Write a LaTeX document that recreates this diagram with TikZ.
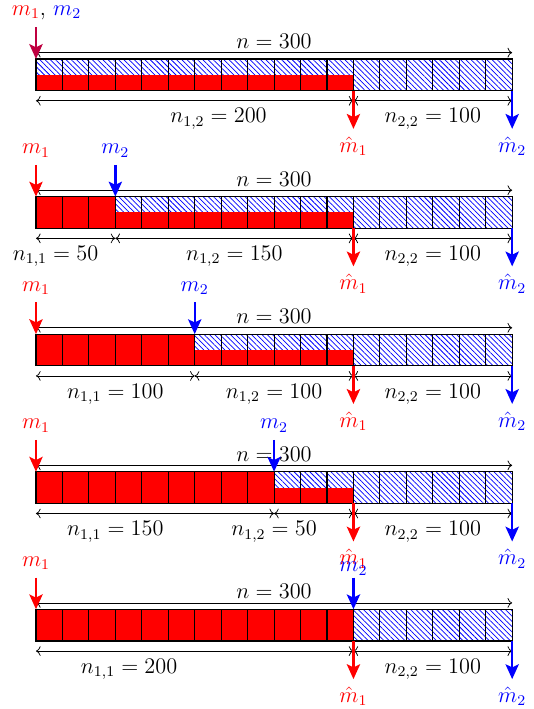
\documentclass[12pt,tikz,border=0pt]{standalone}
\usetikzlibrary{arrows.meta,patterns.meta}
\tikzset{
  cell/.style={draw=black, semithick},
  hatch/.style={pattern={Lines[angle=-45,distance=2pt,line width=0.4pt]}, pattern color=blue},
  redpart/.style={fill=red},
  dim/.style={<->, thin},
  ptr/.style={-{Stealth[length=2.8mm,width=2.5mm,inset=0.6mm]}, line width=1.3pt},
  lbl/.style={inner sep=2pt},
}

\begin{document}
\begin{tikzpicture}
  \useasboundingbox (-0.68,1.115) rectangle (9.395,-12.285);

  % row a: m1 = m2 at the start
  \begin{scope}
    \fill[hatch] (0,-0.6) rectangle (9,0);
    \fill[redpart] (0,-0.6) rectangle (6,-0.3);
    \foreach \i in {0,...,17} \draw[cell] (\i*0.5,-0.6) rectangle +(0.5,0.6);
    \coordinate (nLa) at (0,0.12);
    \coordinate (nRa) at (9,0.12);
    \draw[dim] (nLa) -- node[above, lbl] (na) {$n = 300$} (nRa);
    \coordinate (dAa) at (0,-0.79);
    \coordinate (dCa) at (6,-0.79);
    \coordinate (dDa) at (9,-0.79);
    \draw[dim] (dAa) -- (dCa);
    \draw[dim] (dCa) -- (dDa);
    \node[below] (n12a) at (3.45,-0.79) {$n_{1,2} = 200$};
    \node[below] (n22a) at (7.5,-0.79) {$n_{2,2} = 100$};
    \coordinate (s1a) at (0,0.6);
    \coordinate (t1a) at (0,0);
    \draw[ptr, red!75!blue] (s1a) -- (t1a);
    \node[above] (m12a) at (0.2,0.6) {{\color{red}$m_1$}, {\color{blue}$m_2$}};
    \coordinate (h1a) at (6,-0.6);
    \coordinate (e1a) at (6,-1.32);
    \coordinate (h2a) at (9,-0.6);
    \coordinate (e2a) at (9,-1.32);
    \draw[ptr, red] (h1a) -- (e1a);
    \draw[ptr, blue] (h2a) -- (e2a);
    \node[below, red] (hm1a) at (e1a) {$\hat{m}_1$};
    \node[below, blue] (hm2a) at (e2a) {$\hat{m}_2$};
  \end{scope}

  % row b: m2 after 50
  \begin{scope}[yshift=-2.6cm]
    \fill[hatch] (1.5,-0.6) rectangle (9,0);
    \fill[redpart] (0,-0.6) rectangle (1.5,0);
    \fill[redpart] (1.5,-0.6) rectangle (6,-0.3);
    \foreach \i in {0,...,17} \draw[cell] (\i*0.5,-0.6) rectangle +(0.5,0.6);
    \coordinate (nLb) at (0,0.12);
    \coordinate (nRb) at (9,0.12);
    \draw[dim] (nLb) -- node[above, lbl] (nb) {$n = 300$} (nRb);
    \coordinate (dAb) at (0,-0.79);
    \coordinate (dBb) at (1.5,-0.79);
    \coordinate (dCb) at (6,-0.79);
    \coordinate (dDb) at (9,-0.79);
    \draw[dim] (dAb) -- (dBb);
    \draw[dim] (dBb) -- (dCb);
    \draw[dim] (dCb) -- (dDb);
    \node[below] (n11b) at (0.37,-0.79) {$n_{1,1} = 50$};
    \node[below] (n12b) at (3.75,-0.79) {$n_{1,2} = 150$};
    \node[below] (n22b) at (7.5,-0.79) {$n_{2,2} = 100$};
    \coordinate (s1b) at (0,0.6);
    \coordinate (t1b) at (0,0);
    \coordinate (s2b) at (1.5,0.6);
    \coordinate (t2b) at (1.5,0);
    \draw[ptr, red] (s1b) -- (t1b);
    \draw[ptr, blue] (s2b) -- (t2b);
    \node[above, red] (m1b) at (s1b) {$m_1$};
    \node[above, blue] (m2b) at (s2b) {$m_2$};
    \coordinate (h1b) at (6,-0.6);
    \coordinate (e1b) at (6,-1.32);
    \coordinate (h2b) at (9,-0.6);
    \coordinate (e2b) at (9,-1.32);
    \draw[ptr, red] (h1b) -- (e1b);
    \draw[ptr, blue] (h2b) -- (e2b);
    \node[below, red] (hm1b) at (e1b) {$\hat{m}_1$};
    \node[below, blue] (hm2b) at (e2b) {$\hat{m}_2$};
  \end{scope}

  % row c: m2 after 100
  \begin{scope}[yshift=-5.2cm]
    \fill[hatch] (3,-0.6) rectangle (9,0);
    \fill[redpart] (0,-0.6) rectangle (3,0);
    \fill[redpart] (3,-0.6) rectangle (6,-0.3);
    \foreach \i in {0,...,17} \draw[cell] (\i*0.5,-0.6) rectangle +(0.5,0.6);
    \coordinate (nLc) at (0,0.12);
    \coordinate (nRc) at (9,0.12);
    \draw[dim] (nLc) -- node[above, lbl] (nc) {$n = 300$} (nRc);
    \coordinate (dAc) at (0,-0.79);
    \coordinate (dBc) at (3,-0.79);
    \coordinate (dCc) at (6,-0.79);
    \coordinate (dDc) at (9,-0.79);
    \draw[dim] (dAc) -- (dBc);
    \draw[dim] (dBc) -- (dCc);
    \draw[dim] (dCc) -- (dDc);
    \node[below] (n11c) at (1.5,-0.79) {$n_{1,1} = 100$};
    \node[below] (n12c) at (4.5,-0.79) {$n_{1,2} = 100$};
    \node[below] (n22c) at (7.5,-0.79) {$n_{2,2} = 100$};
    \coordinate (s1c) at (0,0.6);
    \coordinate (t1c) at (0,0);
    \coordinate (s2c) at (3,0.6);
    \coordinate (t2c) at (3,0);
    \draw[ptr, red] (s1c) -- (t1c);
    \draw[ptr, blue] (s2c) -- (t2c);
    \node[above, red] (m1c) at (s1c) {$m_1$};
    \node[above, blue] (m2c) at (s2c) {$m_2$};
    \coordinate (h1c) at (6,-0.6);
    \coordinate (e1c) at (6,-1.32);
    \coordinate (h2c) at (9,-0.6);
    \coordinate (e2c) at (9,-1.32);
    \draw[ptr, red] (h1c) -- (e1c);
    \draw[ptr, blue] (h2c) -- (e2c);
    \node[below, red] (hm1c) at (e1c) {$\hat{m}_1$};
    \node[below, blue] (hm2c) at (e2c) {$\hat{m}_2$};
  \end{scope}

  % row d: m2 after 150
  \begin{scope}[yshift=-7.8cm]
    \fill[hatch] (4.5,-0.6) rectangle (9,0);
    \fill[redpart] (0,-0.6) rectangle (4.5,0);
    \fill[redpart] (4.5,-0.6) rectangle (6,-0.3);
    \foreach \i in {0,...,17} \draw[cell] (\i*0.5,-0.6) rectangle +(0.5,0.6);
    \coordinate (nLd) at (0,0.12);
    \coordinate (nRd) at (9,0.12);
    \draw[dim] (nLd) -- node[above, lbl] (nd) {$n = 300$} (nRd);
    \coordinate (dAd) at (0,-0.79);
    \coordinate (dBd) at (4.5,-0.79);
    \coordinate (dCd) at (6,-0.79);
    \coordinate (dDd) at (9,-0.79);
    \draw[dim] (dAd) -- (dBd);
    \draw[dim] (dBd) -- (dCd);
    \draw[dim] (dCd) -- (dDd);
    \node[below] (n11d) at (1.5,-0.79) {$n_{1,1} = 150$};
    \node[below] (n12d) at (4.5,-0.79) {$n_{1,2} = 50$};
    \node[below] (n22d) at (7.5,-0.79) {$n_{2,2} = 100$};
    \coordinate (s1d) at (0,0.6);
    \coordinate (t1d) at (0,0);
    \coordinate (s2d) at (4.5,0.6);
    \coordinate (t2d) at (4.5,0);
    \draw[ptr, red] (s1d) -- (t1d);
    \draw[ptr, blue] (s2d) -- (t2d);
    \node[above, red] (m1d) at (s1d) {$m_1$};
    \node[above, blue] (m2d) at (s2d) {$m_2$};
    \coordinate (h1d) at (6,-0.6);
    \coordinate (e1d) at (6,-1.32);
    \coordinate (h2d) at (9,-0.6);
    \coordinate (e2d) at (9,-1.32);
    \draw[ptr, red] (h1d) -- (e1d);
    \draw[ptr, blue] (h2d) -- (e2d);
    \node[below, red] (hm1d) at (e1d) {$\hat{m}_1$};
    \node[below, blue] (hm2d) at (e2d) {$\hat{m}_2$};
  \end{scope}

  % row e: m2 after 200
  \begin{scope}[yshift=-10.4cm]
    \fill[hatch] (6,-0.6) rectangle (9,0);
    \fill[redpart] (0,-0.6) rectangle (6,0);
    \foreach \i in {0,...,17} \draw[cell] (\i*0.5,-0.6) rectangle +(0.5,0.6);
    \coordinate (nLe) at (0,0.12);
    \coordinate (nRe) at (9,0.12);
    \draw[dim] (nLe) -- node[above, lbl] (ne) {$n = 300$} (nRe);
    \coordinate (dAe) at (0,-0.79);
    \coordinate (dCe) at (6,-0.79);
    \coordinate (dDe) at (9,-0.79);
    \draw[dim] (dAe) -- (dCe);
    \draw[dim] (dCe) -- (dDe);
    \node[below] (n11e) at (1.76,-0.79) {$n_{1,1} = 200$};
    \node[below] (n22e) at (7.5,-0.79) {$n_{2,2} = 100$};
    \coordinate (s1e) at (0,0.6);
    \coordinate (t1e) at (0,0);
    \coordinate (s2e) at (6,0.6);
    \coordinate (t2e) at (6,0);
    \draw[ptr, red] (s1e) -- (t1e);
    \draw[ptr, blue] (s2e) -- (t2e);
    \node[above, red] (m1e) at (s1e) {$m_1$};
    \node[above, blue, inner sep=1pt] (m2e) at (s2e) {$m_2$};
    \coordinate (h1e) at (6,-0.6);
    \coordinate (e1e) at (6,-1.32);
    \coordinate (h2e) at (9,-0.6);
    \coordinate (e2e) at (9,-1.32);
    \draw[ptr, red] (h1e) -- (e1e);
    \draw[ptr, blue] (h2e) -- (e2e);
    \node[below, red] (hm1e) at (e1e) {$\hat{m}_1$};
    \node[below, blue] (hm2e) at (e2e) {$\hat{m}_2$};
  \end{scope}
\end{tikzpicture}
\end{document}
